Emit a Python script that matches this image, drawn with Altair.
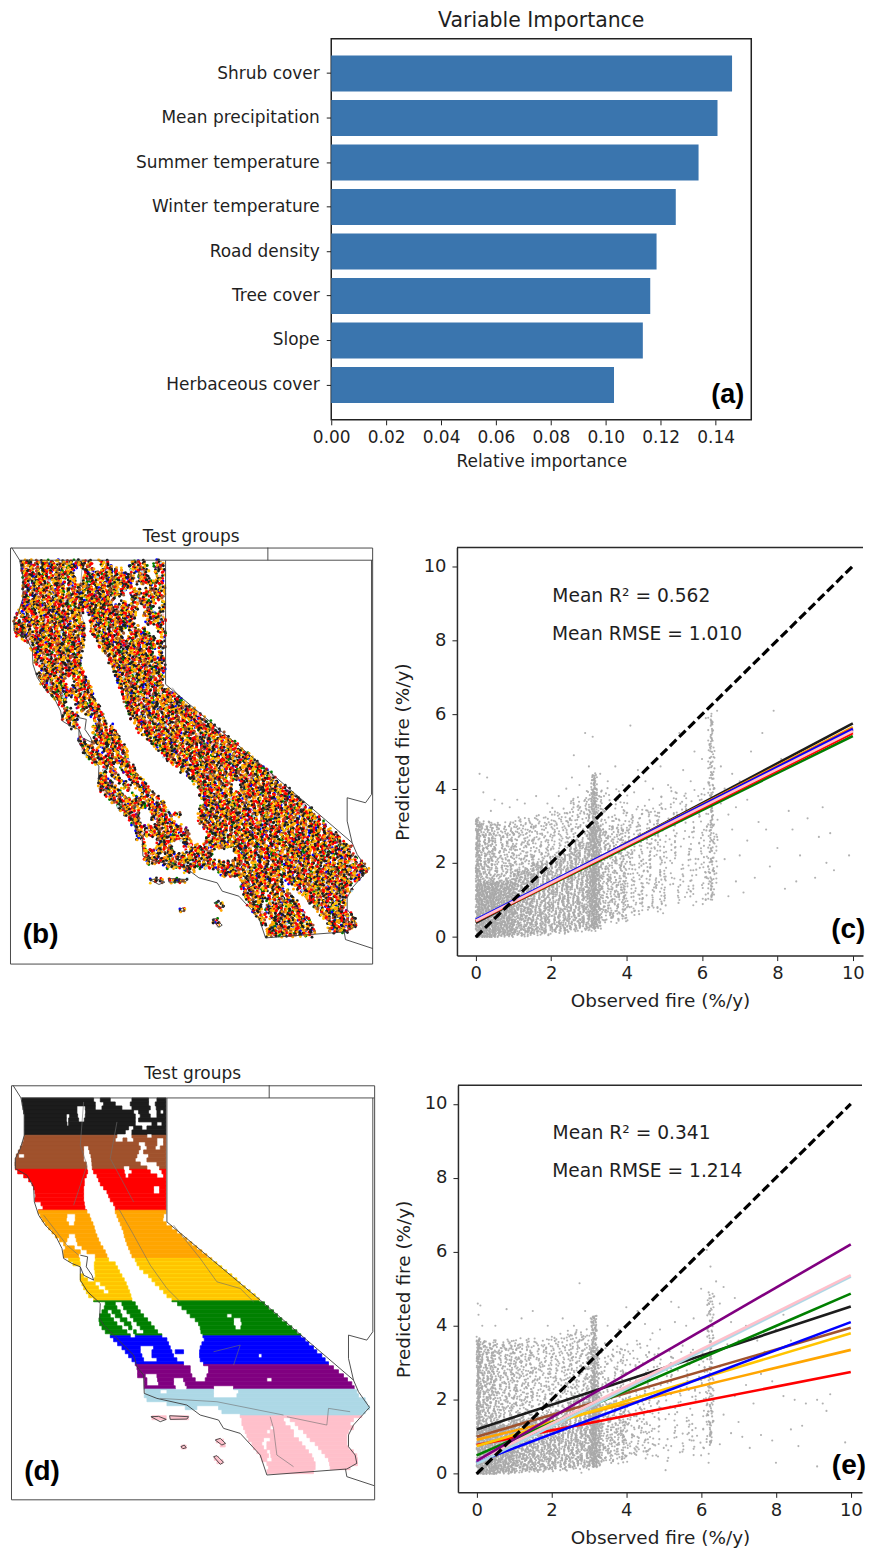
import altair as alt
import pandas as pd

alt.data_transformers.disable_max_rows()

FONT = "DejaVu Sans"
BOLD = "Liberation Sans"
INK = "#1f1f1f"

# ---- panel (a)
BAR_NAMES = ["Shrub cover", "Mean precipitation", "Summer temperature", "Winter temperature",
             "Road density", "Tree cover", "Slope", "Herbaceous cover"]
BAR_VALUES = [0.146, 0.1407, 0.1338, 0.1255, 0.1185, 0.1162, 0.1135, 0.103]
BAR_TICKS = [0, 0.02, 0.04, 0.06, 0.08, 0.10, 0.12, 0.14]

# ---- map readings: row top, then pairs of easting start/end
MAP_ROWS = [
 (118,[65,280,300,330,395,445,470,497]),(130,[66,285,310,345,390,445,465,497]),
 (142,[68,230,255,285,305,365,395,450,468,497]),(154,[70,230,256,400,415,445,470,480,490,497]),
 (166,[72,198,208,232,255,405,420,450,470,497]),(178,[72,198,205,235,252,405,415,497]),
 (190,[72,200,205,405,455,470,485,497]),(202,[72,385,400,425,440,497]),
 (214,[72,375,395,497]),(226,[72,350,395,440,455,497]),
 (238,[70,345,368,380,400,470,490,497]),(250,[66,415,435,470,490,497]),
 (262,[60,250,265,420,440,465,480,497]),(274,[54,250,268,415,430,497]),
 (286,[48,55,72,250,272,410,445,497]),(298,[45,250,274,405,440,497]),
 (310,[44,258,275,420,470,497]),(322,[45,260,276,370,388,440,478,497]),
 (334,[52,262,280,372,395,450,485,497]),(346,[70,258,290,375,385,470,490,497]),
 (358,[85,252,295,497]),(370,[95,252,300,497]),(382,[100,250,310,460,478,497]),
 (394,[104,250,320,460,478,497]),(406,[106,250,325,497]),(418,[104,250,330,497]),
 (430,[122,252,340,497]),(442,[128,254,345,497]),(454,[114,260,345,497]),
 (466,[120,200,225,268,350,490]),(478,[126,198,225,272,355,488]),(490,[135,205,222,278,360,498]),
 (502,[145,282,365,515]),(514,[155,285,370,530]),(526,[165,205,225,290,372,545]),
 (538,[178,200,228,295,376,560]),(550,[190,196,232,300,380,575]),(562,[195,222,245,308,385,590]),
 (574,[190,240,260,315,390,605]),(586,[190,235,285,320,395,620]),(598,[205,238,285,325,405,635]),
 (610,[218,240,282,345,410,650]),(622,[282,352,418,665]),(634,[284,358,430,680]),
 (646,[240,250,285,365,445,695]),(658,[240,262,282,372,455,710]),(670,[245,285,300,378,465,720]),
 (682,[250,295,315,383,478,735]),(694,[258,310,325,388,490,750]),(706,[265,392,500,765]),
 (718,[280,395,515,777]),(730,[315,345,365,405,532,793]),(742,[312,350,370,412,545,805]),
 (754,[305,322,335,360,380,420,560,820]),(766,[298,330,345,365,390,430,570,680,695,832]),
 (778,[296,340,360,380,400,442,585,700,722,845]),(790,[298,350,372,392,410,452,595,700,725,860]),
 (802,[305,365,385,395,420,462,600,705,722,875]),(814,[315,380,400,408,430,472,602,890]),
 (826,[330,390,405,485,608,902]),(838,[340,500,612,915]),(850,[352,505,605,926]),
 (862,[365,420,460,510,600,940]),(874,[375,420,455,515,525,550,598,950]),
 (886,[385,425,455,520,598,775,785,965]),(898,[395,430,470,530,600,975]),
 (910,[405,550,610,985]),(922,[410,570,625,1000]),(934,[412,570,625,1015]),
 (946,[412,435,470,575,620,1030]),(958,[432,440,472,520,550,585,615,800,815,1042]),
 (970,[432,440,475,520,555,1055]),(982,[432,525,560,640,700,1062]),
 (994,[435,480,500,640,715,1070]),(1006,[432,640,710,1075]),(1018,[440,1095]),
 (1030,[500,1100]),(1042,[555,590,655,1108]),(1054,[665,1095]),(1066,[720,1085]),
 (1078,[725,850,870,1060]),(1090,[725,855,885,1050]),(1102,[730,810,820,870,895,1060]),
 (1114,[735,800,810,880,910,1045]),(1126,[740,880,920,1040]),(1138,[745,790,810,895,930,1040]),
 (1150,[755,785,800,905,945,1040]),(1162,[760,790,800,915,955,1045]),
 (1174,[770,800,810,925,965,1060]),(1186,[780,805,812,935,975,1070]),
 (1198,[785,800,815,940,985,1072]),(1210,[800,945,988,1072]),(1222,[805,945,990,1050]),
 (1234,[800,940]),
 (1072,[455,498,510,565]),(1142,[648,670]),(1154,[660,675]),(1160,[543,558]),
 (1194,[642,655]),(1204,[650,668]),
]
BAND_NAMES = ["black", "sienna", "red", "orange", "gold", "green", "blue", "purple", "lightblue", "pink"]
BAND_COLORS = ["#1c1c1c", "#a0522d", "#ff0000", "#ffa500", "#ffd700", "#008000", "#0000ff", "#800080", "#add8e6", "#ffc0cb"]
BAND_EDGES = [118, 230, 332, 455, 600, 727, 832, 918, 992, 1072, 1260]

STATE_LINE = [(62,118),(72,170),(72,230),(60,270),(45,300),(45,330),(80,350),(100,385),(102,430),(115,470),(135,500),
 (165,530),(185,570),(190,600),(215,615),(240,625),(240,665),(262,700),(300,735),(298,780),(310,800),(345,835),(400,890),
 (410,925),(430,950),(432,1005),(470,1020),(560,1040),(600,1070),(655,1085),(670,1110),(720,1125),(780,1190),(800,1250),
 (1040,1232),(1070,1215),(1065,1190),(1045,1165),(1045,1130),(1060,1100),(1108,1047),(1075,1000),(1060,965),(780,725),
 (500,490),(500,118),(62,118)]
BORDER_LINES = [
 [(38,80),(62,118)], [(500,118),(1122,118)], [(807,80),(807,118)], [(1118,118),(1118,820),(1100,845),(1045,830),(1045,900),(1060,965)],
 [(1036,1232),(1040,1255),(1122,1282)],
 [(240,590),(262,595),(258,625),(275,650),(280,665),(250,650),(240,625)],
 [(452,1075),(475,1074),(498,1083),(480,1090),(452,1075)], [(508,1072),(565,1075),(560,1082),(510,1083),(508,1072)],
 [(645,1145),(660,1140),(676,1155),(665,1160),(645,1145)], [(542,1165),(552,1160),(558,1168),(548,1171),(542,1165)],
 [(640,1195),(650,1192),(670,1212),(660,1218),(640,1195)],
]
COUNTY_LINES = [
 [(355,450),(395,520),(450,620),(500,690),(540,730)], [(520,500),(600,600),(650,670),(720,690),(760,730)],
 [(130,470),(200,560),(235,590)], [(250,130),(240,260),(260,320),(220,440)], [(350,190),(330,300),(400,430)],
 [(810,1075),(820,1110),(830,1190),(880,1225)], [(860,1075),(980,1100),(985,1050),(1050,1060)], [(480,1020),(650,1030),(850,1070)],
 [(640,880),(720,860),(700,920)],
]
MIX_SEQUENCE = (
 "korkonrkoygkrobkonkrgkoyrnkrokgokrbkonrkoykgrokbnkorkygorkvnkokrbgoknrokykrgonkbrokpkorgnkoyr"
 "kobrknogkrokyrnokgbkorkonrlkgokrnbokygkrokrnogbkorkvyrknokgrobkorkynrokgkorbnkokrgypkonrkgobk"
 "ronkyogrkbokrnkgokoyrkbnorkgkolrokbynkrogkrnobkygokrvonkgkrobrkyonkgorkbrnkopgykrokbnrogkyork"
 "nbgkoyrkokrgnbokrlkynogkrobkornkgyorkvbkorgnkoykrbokgnrokpybkrogkonrbkyogkrnolkbrgoykrnkokgbr"
)
MIX_GROUPS = list("knroygbvlp")
MIX_COLORS = ["#1c1c1c", "#a0522d", "#ff0000", "#ffa500", "#ffc400", "#008000", "#0000ff", "#800080", "#add8e6", "#ffc0cb"]
# hand-typed digit runs used as small offsets for stippled marks
NUDGE_A = "3725194860471928365017294638152074938162507349281650739428165093742861059374261850"
NUDGE_B = "61940283751692047385109648273051946827350196482735091648207351946028375"

# ---- panels (c), (e): regression ends at observed = 0 and 10
IDEAL_X = [0, 10]
IDEAL_Y = [0, 10]
C_LINES = {"black": (0.38, 5.76), "orange": (0.43, 5.66), "sienna": (0.44, 5.55), "gold": (0.45, 5.6), "green": (0.42, 5.42),
           "red": (0.42, 5.5), "purple": (0.45, 5.62), "lightblue": (0.46, 5.57), "blue": (0.47, 5.6), "pink": (0.44, 5.55)}
E_LINES = {"red": (0.78, 2.75), "orange": (0.92, 3.35), "gold": (0.75, 3.8), "sienna": (1.0, 3.95), "blue": (0.32, 4.1),
           "black": (1.2, 4.52), "green": (0.5, 4.87), "lightblue": (0.27, 5.33), "pink": (0.35, 5.37), "purple": (0.35, 6.2)}

# density blocks read from the cloud: x start, x end, y start, y end, strength
C_BLOCKS = [(0,.08,0,3.2,1),(.08,.5,0,1.5,1),(.08,.5,1.5,3.1,.55),(.5,1,.04,1.5,.9),(.5,1,1.5,3.1,.42),
 (1,1.5,.06,1.8,.72),(1,1.5,1.8,3.2,.36),(1.5,2,.1,2,.62),(1.5,2,2,3.3,.32),(2,2.5,.14,2.2,.6),(2,2.5,2.2,3.4,.3),
 (2.5,3,.2,2.6,.6),(2.5,3,2.6,3.7,.3),(3,3.3,.25,3,.8),(3,3.3,3,4,.4),(3.3,4,.45,3,.42),(3.3,4,3,4,.2),
 (4,5,.7,3.5,.25),(5,6.3,1,4,.17),(3.1,3.18,.2,4.4,.9),(6.22,6.29,1,6,.55)]
E_BLOCKS = [(0,.08,0,3.7,1),(.08,.5,0,1.3,1),(.08,.5,1.3,3.6,.55),(.5,1,.04,1.3,.9),(.5,1,1.3,3.6,.4),
 (1,1.5,.08,1.45,.72),(1,1.5,1.45,3.6,.36),(1.5,2,.1,1.55,.64),(1.5,2,1.55,3.6,.3),(2,2.5,.14,1.7,.6),(2,2.5,1.7,3.8,.3),
 (2.5,3,.18,2,.6),(2.5,3,2,3.9,.34),(3,3.3,.22,2.2,.78),(3,3.3,2.2,3.4,.46),(3.3,4,.35,2,.42),(3.3,4,2,3.5,.22),
 (4,4.7,.5,2.3,.25),(4,4.7,2.3,3.6,.16),(4.7,6.3,.6,3.4,.14),(3.1,3.18,.2,4.3,.9),(6.22,6.29,.8,4.9,.55)]
C_DOTS = [(.1,4.4),(.3,4.3),(.2,3.9),(.5,3.7),(.7,3.6),(.4,3.4),(.9,3.5),(1.1,3.7),(1.3,3.6),(1.6,3.8),(1.9,3.6),(2.2,3.8),(2.4,4.0),
 (2.6,4.9),(2.9,5.5),(2.55,4.3),(2.75,4.1),(3.0,4.6),(3.3,4.4),(3.1,5.4),(3.5,4.2),(3.7,4.6),(3.9,4.1),(4.1,5.7),(4.3,4.5),(4.2,3.9),
 (4.5,4.2),(4.7,4.0),(4.6,3.7),(4.9,4.6),(5.1,4.1),(5.3,3.9),(5.2,5.2),(5.4,5.5),(5.5,4.5),(5.7,4.2),(5.8,5.0),(5.9,3.8),(6.0,4.8),
 (6.1,5.9),(6.2,5.2),(6.4,6.1),(6.5,4.6),(6.6,4.0),(6.8,4.4),(6.9,3.5),(7.0,4.2),(7.2,3.7),(7.3,5.0),(7.6,5.5),(7.9,6.1),(8.1,4.8),
 (8.3,3.4),(7.7,2.9),(7.5,3.1),(7.2,2.6),(7.0,2.2),(6.8,2.9),(6.6,2.1),(6.4,1.9),(6.2,1.5),(6.0,1.4),(5.9,2.1),(5.7,1.8),(5.6,1.2),
 (5.4,1.0),(5.2,1.6),(5.0,1.1),(4.8,1.4),(4.6,.8),(4.4,.9),(4.2,.7),(8.0,2.4),(8.4,2.9),(8.6,2.2),(8.8,3.2),(9.1,2.7),(9.3,2.0),
 (9.4,2.8),(9.5,1.8),(9.2,3.5),(9.0,1.6),(8.5,1.5),(7.8,1.9),(7.4,1.6),(7.1,1.2),(6.9,1.5),(6.7,1.1),(9.9,2.2),(8.2,1.3),
 (6.4,2.7),(6.7,3.3),(6.5,3.6),(6.3,3.0),(3.4,3.8),(3.7,1.1),(4.0,1.2)]
E_DOTS = [(.03,4.6),(.1,4.55),(.15,4.0),(.05,4.3),(.5,4.0),(.8,4.45),(1.2,4.2),(1.5,4.4),(1.9,4.0),(2.3,4.2),(2.6,4.0),(2.9,4.4),(2.75,5.15),
 (3.05,4.2),(3.2,3.9),(3.5,4.0),(3.8,3.9),(4.0,4.5),(4.3,4.4),(4.5,4.05),(4.7,3.8),(4.9,3.9),(5.2,4.65),(5.4,4.5),(5.6,4.0),(5.3,4.1),
 (5.8,4.2),(6.0,5.0),(6.15,6.05),(6.25,5.6),(6.35,4.8),(6.5,4.6),(6.4,5.2),(6.6,5.05),(6.9,4.75),(6.8,4.1),(7.0,3.6),(7.2,4.0),(7.5,3.6),
 (7.7,3.3),(8.0,3.9),(8.2,4.3),(8.4,3.6),(7.6,2.7),(7.9,2.5),(8.2,2.1),(8.5,2.0),(8.8,1.9),(9.1,2.0),(9.25,1.9),(9.35,1.7),(9.45,2.15),
 (8.4,1.2),(8.7,1.3),(8.6,.75),(9.1,.2),(9.85,.85),(8.0,.3),(7.1,1.0),(7.3,.7),(7.6,1.05),(7.9,.9),(7.0,1.4),(6.8,1.1),(6.5,.8),(6.2,.3),
 (6.0,.5),(5.8,.9),(5.5,.6),(5.2,.75),(5.05,.1),(5.1,.35),(4.8,.5),(4.6,.65),(4.5,.9),(4.3,1.0),(5.0,.7),(6.3,2.0),(6.6,1.6),(6.9,2.1),(7.2,2.4),
 (7.4,1.9),(6.5,2.9),(6.7,3.5),(3.9,.9),(3.6,.8),(3.0,.12),(2.8,.03)]

C_TEXT = ["Mean R\u00b2 = 0.562", "Mean RMSE = 1.010"]
E_TEXT = ["Mean R\u00b2 = 0.341", "Mean RMSE = 1.214"]
TEXT_X = [2.03, 2.02]
TEXT_Y = [9.2, 8.17]
SCATTER_TICKS = [0, 2, 4, 6, 8, 10]


def nudge(i):
    return (int(NUDGE_A[i % len(NUDGE_A)]) - 4.5) / 4.5, (int(NUDGE_B[i % len(NUDGE_B)]) - 4.5) / 4.5


def spacer(w, h):
    return alt.Chart(pd.DataFrame({"a": [0]})).mark_point(opacity=0, size=1, strokeWidth=0).encode(
        x=alt.X("a:Q", axis=None), y=alt.Y("a:Q", axis=None)
    ).properties(width=w, height=h)


def bar_panel():
    df = pd.DataFrame({"name": BAR_NAMES, "value": BAR_VALUES})
    y = alt.Y("name:N", sort=BAR_NAMES, title=None,
              scale=alt.Scale(paddingInner=0.19, paddingOuter=0.378),
              axis=alt.Axis(labelFontSize=17, labelFont=FONT, labelColor=INK, tickColor=INK, tickSize=5, labelPadding=7, domain=False, labelLimit=260))
    x = alt.X("value:Q", title="Relative importance", scale=alt.Scale(domain=[0, 0.153], nice=False),
              axis=alt.Axis(values=BAR_TICKS, format=".2f", grid=False, labelFontSize=17, labelFont=FONT, labelColor=INK,
                            titleFontSize=17, titleFont=FONT, titleFontWeight="normal", titleColor=INK, tickColor=INK,
                            tickSize=5, labelPadding=5, titlePadding=8, domain=False, labelFlush=False, labelOverlap=False))
    bars = alt.Chart(df).mark_bar(color="#3a75ae").encode(x=x, y=y)
    tag = alt.Chart(pd.DataFrame({"name": [BAR_NAMES[-1]], "value": [0.1444], "t": ["(a)"]})).mark_text(
        font=BOLD, fontWeight="bold", fontSize=27, color="black", dy=10).encode(x="value:Q", y=alt.Y("name:N", sort=BAR_NAMES), text="t:N")
    return (bars + tag).properties(width=421, height=382,
        title=alt.TitleParams("Variable Importance", fontSize=20.5, font=FONT, fontWeight="normal", color=INK, offset=7),
        view=alt.ViewConfig(stroke="#222222", strokeWidth=1.5))


def line_frame(parts):
    rows = []
    for i, part in enumerate(parts):
        for j, (px, py) in enumerate(part):
            rows.append({"part": i, "seq": j, "e": px, "n": py})
    return pd.DataFrame(rows)


def map_panel(kind, tag, xdom, ydom, w, h):
    xs = alt.Scale(domain=xdom, nice=False, zero=False)
    ys = alt.Scale(domain=ydom, nice=False, zero=False)
    X = alt.X("e:Q", axis=None, scale=xs)
    Y = alt.Y("n:Q", axis=None, scale=ys)
    layers = []
    county = alt.Chart(line_frame(COUNTY_LINES)).mark_line(color="#6e6e6e", strokeWidth=0.6).encode(
        x=X, y=Y, detail="part:N", order="seq:Q")
    if kind == "bands":
        rows = []
        for top, sp in MAP_ROWS:
            for k in range(0, len(sp), 2):
                for b, name in enumerate(BAND_NAMES):
                    a = max(top, BAND_EDGES[b])
                    z = min(top + 12, BAND_EDGES[b + 1])
                    if z > a:
                        rows.append({"e": sp[k], "e2": sp[k + 1], "n": a, "n2": z, "band": name})
        layers.append(alt.Chart(pd.DataFrame(rows)).mark_rect(strokeWidth=0.7).encode(
            x=X, x2="e2:Q", y=Y, y2="n2:Q",
            color=alt.Color("band:N", scale=alt.Scale(domain=BAND_NAMES, range=BAND_COLORS), legend=None),
            stroke=alt.Stroke("band:N", scale=alt.Scale(domain=BAND_NAMES, range=BAND_COLORS), legend=None)))
        layers.append(county)
    else:
        rows = []
        i = 0
        for top, sp in MAP_ROWS:
            for k in range(0, len(sp), 2):
                for rn in (top + 2, top + 6, top + 10):
                    e = sp[k] + 3
                    while e < sp[k + 1]:
                        a, b = nudge(i)
                        rows.append({"e": e + 4 * a, "n": rn + 4 * b, "g": MIX_SEQUENCE[i % len(MIX_SEQUENCE)]})
                        i += 1
                        e += 8
        rows = sorted(rows, key=lambda r: r["g"] not in "bgv")
        layers.append(county)
        layers.append(alt.Chart(pd.DataFrame(rows)).mark_circle(size=8, opacity=1).encode(
            x=X, y=Y, color=alt.Color("g:N", scale=alt.Scale(domain=MIX_GROUPS, range=MIX_COLORS), legend=None)))
    state = alt.Chart(line_frame([STATE_LINE] + BORDER_LINES)).mark_line(color="#3c3c3c", strokeWidth=0.9).encode(
        x=X, y=Y, detail="part:N", order="seq:Q")
    layers.append(state)
    label = alt.Chart(pd.DataFrame({"e": [125], "n": [1240], "t": [tag]})).mark_text(
        font=BOLD, fontWeight="bold", fontSize=28, color="black").encode(x=X, y=Y, text="t:N")
    layers.append(label)
    return alt.layer(*layers).properties(width=w, height=h,
        title=alt.TitleParams("Test groups", fontSize=17, font=FONT, fontWeight="normal", color=INK, offset=0),
        view=alt.ViewConfig(stroke="#4a4a4a", strokeWidth=1))


def stipple(blocks):
    rows = []
    i = 0
    for x0, x1, y0, y1, s in blocks:
        step = 1.3 / s ** 0.8
        dx, dy = step / 38.0, step / 37.2
        y = y0
        while y < y1:
            x = x0
            while x < x1:
                a, b = nudge(i)
                rows.append({"x": x + a * dx, "y": max(y + b * dy, 0.0)})
                i += 1
                x += dx
            y += dy
    return rows


def scatter_panel(blocks, dots, ends, text, tag, tag_x, w, h, xmax):
    xs = alt.Scale(domain=[-0.5, xmax], nice=False, zero=False)
    ys = alt.Scale(domain=[-0.5, 10.5], nice=False, zero=False)
    ax = dict(values=SCATTER_TICKS, grid=False, labelFontSize=18, labelFont=FONT, labelColor=INK, titleFontSize=18.5, titleFont=FONT,
              titleFontWeight="normal", titleColor=INK, tickColor=INK, tickSize=5, domain=True, domainColor="#2a2a2a", domainWidth=1.5,
              labelFlush=False, labelOverlap=False, format="d")
    X = alt.X("x:Q", title="Observed fire (%/y)", scale=xs, axis=alt.Axis(labelPadding=4, titlePadding=9, **ax))
    Y = alt.Y("y:Q", title="Predicted fire (%/y)", scale=ys, axis=alt.Axis(labelPadding=6, titlePadding=11, **ax))
    ddf = pd.DataFrame(stipple(blocks) + [{"x": a, "y": b} for a, b in dots])
    ddf = ddf[ddf.x >= 0]
    pts = alt.Chart(ddf).mark_circle(size=4.5, color="#a9a9a9", opacity=0.9).encode(x=X, y=Y)
    top = alt.Chart(pd.DataFrame({"y": [10.5]})).mark_rule(color="#2a2a2a", strokeWidth=1.5).encode(y=Y)
    rows = []
    for name, (a, b) in ends.items():
        rows += [{"x": 0, "y": a, "g": name}, {"x": 10, "y": b, "g": name}]
    reg = alt.Chart(pd.DataFrame(rows)).mark_line(strokeWidth=2.6).encode(
        x=X, y=Y, detail="g:N",
        color=alt.Color("g:N", scale=alt.Scale(domain=BAND_NAMES, range=BAND_COLORS), legend=None))
    ideal = alt.Chart(pd.DataFrame({"x": IDEAL_X, "y": IDEAL_Y})).mark_line(
        color="black", strokeWidth=3.2, strokeDash=[9, 4]).encode(x=X, y=Y)
    txt = alt.Chart(pd.DataFrame({"x": TEXT_X, "y": TEXT_Y, "t": text})).mark_text(
        font=FONT, fontSize=18.7, color=INK, align="left", baseline="middle").encode(x=X, y=Y, text="t:N")
    lab = alt.Chart(pd.DataFrame({"x": [tag_x], "y": [0.2], "t": [tag]})).mark_text(
        font=BOLD, fontWeight="bold", fontSize=28, color="black").encode(x=X, y=Y, text="t:N")
    return alt.layer(pts, top, reg, ideal, txt, lab).properties(width=w, height=h)


row_a = alt.hconcat(spacer(126, 1), bar_panel(), spacing=0)
row_b = alt.hconcat(spacer(1, 1), map_panel("mix", "(b)", [33, 1120], [1327, 80], 363, 417), spacer(18, 1),
                    scatter_panel(C_BLOCKS, C_DOTS, C_LINES, C_TEXT, "(c)", 9.88, 407, 409, 10.27), spacing=0)
row_d = alt.hconcat(spacer(2, 1), map_panel("bands", "(d)", [32, 1122], [1323, 80], 364, 415), spacer(17, 1),
                    scatter_panel(E_BLOCKS, E_DOTS, E_LINES, E_TEXT, "(e)", 9.95, 405, 408, 10.3), spacing=0)
chart = alt.vconcat(row_a, spacer(1, 56), row_b, spacer(1, 54), row_d, spacing=0).properties(
    padding=0, background="white").configure_view(stroke=None)

chart.save("out.html", embed_options={"renderer": "svg", "actions": False})
